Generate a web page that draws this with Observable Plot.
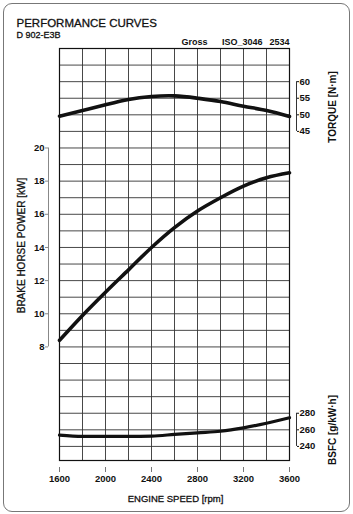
<!DOCTYPE html>
<html><head><meta charset="utf-8">
<script src="https://cdn.jsdelivr.net/npm/d3@7"></script>
<script src="https://cdn.jsdelivr.net/npm/@observablehq/plot@0.6"></script>
<style>
html,body{margin:0;padding:0;background:#fff;}
#wrap{position:relative;width:353px;height:514px;overflow:hidden;}
#border{position:absolute;left:3px;top:3px;width:347px;height:509px;border:1px solid #777;border-radius:9px;box-sizing:border-box;pointer-events:none;}
#wrap svg{position:absolute;left:0;top:0;}
</style></head><body><div id="wrap"><div id="border"></div></div>
<script>
// Engine speed [rpm]
const rpm = [1600, 1800, 2000, 2200, 2400, 2600, 2800, 3000, 3200, 3400, 3600];
// Brake horse power [kW]
const power = [8.4, 9.9, 11.3, 12.65, 14.0, 15.2, 16.2, 17.0, 17.7, 18.2, 18.5];
// Torque [N·m]
const torque = [49.6, 51.3, 53.0, 54.6, 55.5, 55.7, 55.0, 54.0, 52.6, 51.3, 49.5];
// BSFC [g/kW·h]
const bsfc = [253.5, 252, 252, 252, 252.5, 254.4, 256.4, 258.3, 262.4, 268, 274.6];

const rpmTicks = [1600, 2000, 2400, 2800, 3200, 3600];
const powerTicks = [8, 10, 12, 14, 16, 18, 20];
const torqueTicks = [60, 55, 50, 45];
const bsfcTicks = [280, 260, 240];
const gridRpm = d3.range(1600, 3601, 200);
const gridY = d3.range(2, 26, 1);

const title = "PERFORMANCE CURVES";
const model = "D 902-E3B";
const stdWords = ["Gross", "ISO_3046", "2534"];

// shared vertical scale in kW units; torque & BSFC mapped onto it
const tY = t => t / 5 + 12;
const bY = b => (b - 200) / 20;

const rows = rpm.map((r, i) => ({rpm: r, power: power[i], torque: torque[i], bsfc: bsfc[i]}));

const font = "'Liberation Sans', Arial, Helvetica, sans-serif";
const heavy = {stroke: "#111", strokeWidth: 0.3};

const chart = Plot.plot({
  width: 353,
  height: 514,
  marginLeft: 59,
  marginRight: 64,
  marginTop: 48,
  marginBottom: 54,
  x: {domain: [1600, 3600], axis: null},
  y: {domain: [1.15, 26], axis: null},
  style: {fontFamily: font, background: "transparent", color: "#111"},
  marks: [
    Plot.ruleY(gridY, {stroke: "#333", strokeWidth: 0.9}),
    Plot.ruleX(gridRpm, {stroke: "#333", strokeWidth: 0.9}),
    Plot.frame({stroke: "#111", strokeWidth: 1.2}),
    Plot.line(rows, {x: "rpm", y: d => tY(d.torque), curve: "natural", stroke: "#111", strokeWidth: 3.6}),
    Plot.line(rows, {x: "rpm", y: "power", curve: "monotone-x", stroke: "#111", strokeWidth: 3.6}),
    Plot.line(rows, {x: "rpm", y: d => bY(d.bsfc), curve: "monotone-x", stroke: "#111", strokeWidth: 3.2}),

    // left power axis
    Plot.ruleX([1600], {y1: powerTicks[0], y2: powerTicks[powerTicks.length - 1], dx: -11, stroke: "#888"}),
    Plot.axisY(powerTicks, {anchor: "left", label: null, tickSize: 3, tickPadding: 1, dx: -11, fontSize: 9.5, fontWeight: "bold", stroke: "#888", fill: "#111", tickFormat: d => String(d)}),

    // right torque axis
    Plot.ruleX([3600], {y1: tY(torqueTicks[0]), y2: tY(torqueTicks[torqueTicks.length - 1]), dx: 7, stroke: "#333"}),
    Plot.axisY(torqueTicks.map(tY), {anchor: "right", label: null, tickSize: 2, tickPadding: 1, dx: 7, fontSize: 9.5, fontWeight: "bold", letterSpacing: -0.4, tickFormat: d => String(Math.round(5 * (d - 12))), fill: "#111"}),

    // right BSFC axis
    Plot.ruleX([3600], {y1: bY(bsfcTicks[0]), y2: bY(bsfcTicks[bsfcTicks.length - 1]), dx: 7, stroke: "#333"}),
    Plot.axisY(bsfcTicks.map(bY), {anchor: "right", label: null, tickSize: 2, tickPadding: 1, dx: 7, fontSize: 9.5, fontWeight: "bold", letterSpacing: -0.4, tickFormat: d => String(Math.round(20 * d + 200)), fill: "#111"}),

    // bottom axis
    Plot.axisX(rpmTicks, {anchor: "bottom", label: null, tickSize: 5, tickPadding: 3, dy: 7, fontSize: 9.5, fontWeight: "bold", stroke: "#777", fill: "#111", tickFormat: d => String(d)}),

    // axis titles
    Plot.text(["ENGINE SPEED [rpm]"], {frameAnchor: "bottom", dx: 1, dy: 38, fontSize: 9.5, lineAnchor: "middle", fill: "#111", ...heavy}),
    Plot.text(["BRAKE HORSE POWER [kW]"], {frameAnchor: "left", rotate: -90, dx: -37.5, dy: -9, fontSize: 10, lineAnchor: "middle", textAnchor: "middle", fill: "#111", ...heavy}),
    Plot.text(["TORQUE [N·m]"], {frameAnchor: "top-right", rotate: -90, dx: 43, dy: 58.5, fontSize: 10, fontWeight: "bold", lineAnchor: "middle", textAnchor: "middle", fill: "#111"}),
    Plot.text(["BSFC [g/kW·h]"], {frameAnchor: "bottom-right", rotate: -90, dx: 43, dy: -30.5, fontSize: 10, fontWeight: "bold", lineAnchor: "middle", textAnchor: "middle", fill: "#111"}),

    // titles
    Plot.text([title], {frameAnchor: "top-left", textAnchor: "start", lineAnchor: "middle", dx: -43, dy: -25.5, fontSize: 11.5, letterSpacing: -0.8, fill: "#111", ...heavy}),
    Plot.text([model], {frameAnchor: "top-left", textAnchor: "start", lineAnchor: "middle", dx: -43, dy: -13.5, fontSize: 9, fill: "#111", ...heavy}),
    Plot.text([stdWords[2]], {frameAnchor: "top-right", textAnchor: "end", lineAnchor: "middle", dx: 0, dy: -6.5, fontSize: 9, fontWeight: "bold", fill: "#111"}),
    Plot.text([stdWords[1]], {frameAnchor: "top-right", textAnchor: "end", lineAnchor: "middle", dx: -27, dy: -6.5, fontSize: 9, fontWeight: "bold", fill: "#111"}),
    Plot.text([stdWords[0]], {frameAnchor: "top-right", textAnchor: "end", lineAnchor: "middle", dx: -82, dy: -6.5, fontSize: 9, fontWeight: "bold", fill: "#111"})
  ]
});
document.getElementById("wrap").appendChild(chart);
</script>
</body></html>
